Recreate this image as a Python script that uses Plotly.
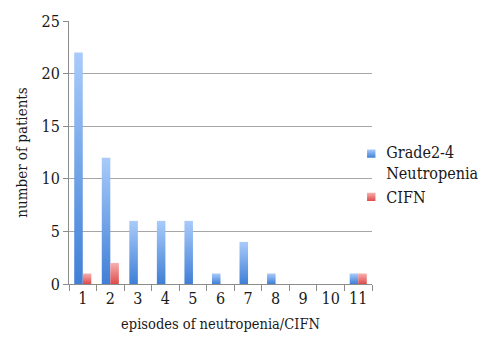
import plotly.graph_objects as go

# Episode counts per patient and how many patients had each count
episodes = [str(i) for i in range(1, 12)]
neutropenia = [22, 12, 6, 6, 6, 1, 4, 1, 0, 0, 1]
cifn = [1, 2, 0, 0, 0, 0, 0, 0, 0, 0, 1]

y_ticks = [0, 5, 10, 15, 20, 25]

FONT = "DejaVu Serif Condensed, DejaVu Serif"
AXIS_GREY = "#8c8c8c"

fig = go.Figure()
fig.add_trace(go.Bar(
    x=episodes, y=neutropenia, name="Grade2-4<br>Neutropenia",
    marker=dict(color="#5f96e6", line=dict(width=0)),
))
fig.add_trace(go.Bar(
    x=episodes, y=cifn, name="CIFN",
    marker=dict(color="#ea6a6a", line=dict(width=0)),
))

fig.update_layout(
    width=500, height=343,
    margin=dict(l=69, r=128, t=18, b=59),
    paper_bgcolor="white", plot_bgcolor="white",
    barmode="group", bargap=0.38, bargroupgap=0.0,
    font=dict(family=FONT, size=15, color="#1a1a1a"),
    showlegend=True,
    legend=dict(
        x=0.915, y=0.415, xanchor="left", yanchor="middle",
        font=dict(family=FONT, size=16, color="#1a1a1a"),
        itemwidth=30, tracegroupgap=3, bgcolor="rgba(0,0,0,0)",
    ),
    xaxis=dict(
        type="category", tickson="boundaries", ticks="outside",
        ticklen=6, tickcolor=AXIS_GREY, showline=True, linecolor=AXIS_GREY,
        linewidth=1, showgrid=False, tickangle=0,
        tickfont=dict(family=FONT, size=16),
        title=dict(text="episodes of neutropenia/CIFN",
                   font=dict(family=FONT, size=14.5), standoff=11),
    ),
    yaxis=dict(
        range=[0, 25], tickvals=y_ticks, ticks="outside", ticklen=5,
        tickcolor=AXIS_GREY, showline=True, linecolor=AXIS_GREY, linewidth=1,
        showgrid=True, gridcolor="#a6a6a6", gridwidth=1, zeroline=False,
        tickfont=dict(family=FONT, size=16),
        title=dict(text="number of patients",
                   font=dict(family=FONT, size=15), standoff=10),
    ),
)

# Vertical light-to-dark gradient fills for the bars and legend swatches
post = """
var gd = document.getElementsByClassName('plotly-graph-div')[0];
function shade() {
  var svg = gd.querySelector('svg.main-svg');
  if (!svg) return;
  var ns = 'http://www.w3.org/2000/svg';
  var defs = svg.querySelector('defs');
  var grads = [['gBlue', '#a9cbfa', '#3f7fd6'], ['gRed', '#f7b0b0', '#dd4b4b']];
  grads.forEach(function(g) {
    if (document.getElementById(g[0])) return;
    var lg = document.createElementNS(ns, 'linearGradient');
    lg.setAttribute('id', g[0]);
    lg.setAttribute('x1', '0'); lg.setAttribute('y1', '0');
    lg.setAttribute('x2', '0'); lg.setAttribute('y2', '1');
    [[0, g[1]], [1, g[2]]].forEach(function(s) {
      var st = document.createElementNS(ns, 'stop');
      st.setAttribute('offset', s[0]);
      st.setAttribute('stop-color', s[1]);
      lg.appendChild(st);
    });
    defs.appendChild(lg);
  });
  var traces = gd.querySelectorAll('.barlayer .trace');
  traces.forEach(function(t, i) {
    t.querySelectorAll('path').forEach(function(p) {
      p.style.fill = 'url(#' + grads[i][0] + ')';
    });
  });
  var shifts = ['translate(25,-9) scale(0.7)', 'translate(25,0) scale(0.7)'];
  var legs = gd.querySelectorAll('.legend .traces');
  legs.forEach(function(t, i) {
    t.querySelectorAll('.legendpoints path').forEach(function(p) {
      p.style.fill = 'url(#' + grads[i][0] + ')';
      p.setAttribute('transform', shifts[i]);
    });
  });
}
shade();
gd.on && gd.on('plotly_afterplot', shade);
"""

fig.write_html("out.html", post_script=post)
